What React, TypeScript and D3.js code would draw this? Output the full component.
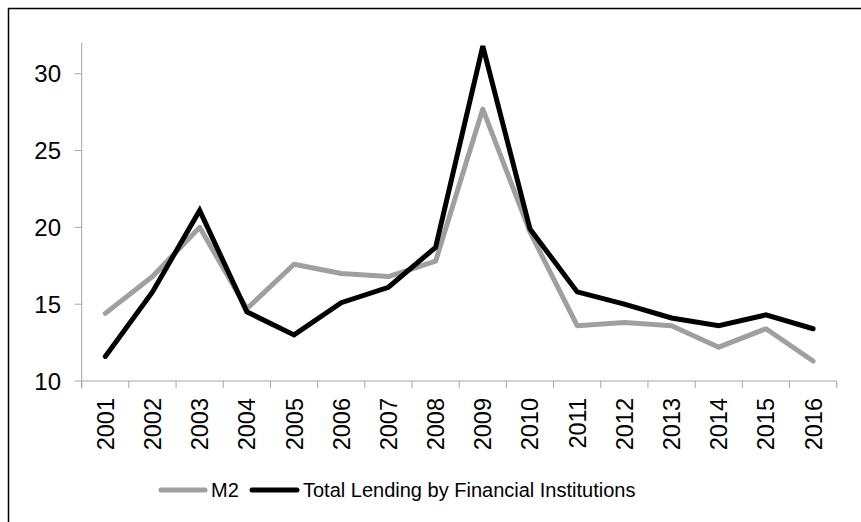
import React from "react";
import * as d3 from "d3";

const years = ["2001","2002","2003","2004","2005","2006","2007","2008","2009","2010","2011","2012","2013","2014","2015","2016"];
const m2 = [14.4, 16.8, 20.0, 14.7, 17.6, 17.0, 16.8, 17.8, 27.7, 19.7, 13.6, 13.8, 13.6, 12.2, 13.4, 11.3];
const lending = [11.6, 15.8, 21.1, 14.5, 13.0, 15.1, 16.1, 18.7, 31.8, 19.9, 15.8, 15.0, 14.1, 13.6, 14.3, 13.4];
const yTicks = [10, 15, 20, 25, 30];
const seriesNames = ["M2", "Total Lending by Financial Institutions"];

const W = 861, H = 522;
const left = 81.7, right = 836.7, top = 43, bottom = 381;
const FONT = "'Liberation Sans', Arial, sans-serif";

export default function App() {
  const x = d3.scaleBand<string>().domain(years).range([left, right]);
  const y = d3.scaleLinear().domain([10, 32]).range([bottom, top]);
  const line = d3.line<number>()
    .x((_, i) => (x(years[i]) as number) + x.bandwidth() / 2)
    .y((d) => y(d));
  const axisColor = "#a6a6a6";
  const boundaries = years.map((yr) => x(yr) as number).concat([right]);
  return (
    <svg width={W} height={H} style={{ position: "absolute", left: 0, top: 0, background: "#fff" }}>
      <line x1={8} x2={W} y1={8.5} y2={8.5} stroke="#000" strokeWidth={1.5} />
      <line x1={8.5} x2={8.5} y1={8} y2={H} stroke="#000" strokeWidth={1.5} />
      {/* y axis */}
      <line x1={left} x2={left} y1={top} y2={bottom + 7} stroke={axisColor} strokeWidth={1} />
      {yTicks.map((t) => (
        <g key={t}>
          <line x1={left - 7} x2={left} y1={y(t)} y2={y(t)} stroke={axisColor} />
          <text x={61} y={y(t)} dy="0.36em" textAnchor="end" fontFamily={FONT} fontSize={24} fill="#000">{t}</text>
        </g>
      ))}
      {/* x axis */}
      <line x1={left} x2={right} y1={bottom} y2={bottom} stroke={axisColor} />
      {boundaries.map((b, i) => (
        <line key={i} x1={b} x2={b} y1={bottom} y2={bottom + 7} stroke={axisColor} />
      ))}
      {years.map((yr) => {
        const cx = (x(yr) as number) + x.bandwidth() / 2;
        return (
          <text key={yr} transform={`translate(${cx},398) rotate(-90)`} dy="0.36em" textAnchor="end" fontFamily={FONT} fontSize={23.5} fill="#000">{yr}</text>
        );
      })}
      <path d={line(m2) || ""} fill="none" stroke="#9f9f9f" strokeWidth={5} strokeLinejoin="round" strokeLinecap="round" />
      <path d={line(lending) || ""} fill="none" stroke="#000" strokeWidth={5} strokeLinejoin="miter" strokeLinecap="round" />
      {/* legend */}
      <line x1={161} x2={205} y1={490} y2={490} stroke="#9f9f9f" strokeWidth={5} strokeLinecap="round" />
      <text x={211} y={490} dy="0.36em" fontFamily={FONT} fontSize={20} fill="#000">{seriesNames[0]}</text>
      <line x1={252} x2={297} y1={490} y2={490} stroke="#000" strokeWidth={5} strokeLinecap="round" />
      <text x={303} y={490} dy="0.36em" fontFamily={FONT} fontSize={20} fill="#000">{seriesNames[1]}</text>
    </svg>
  );
}
